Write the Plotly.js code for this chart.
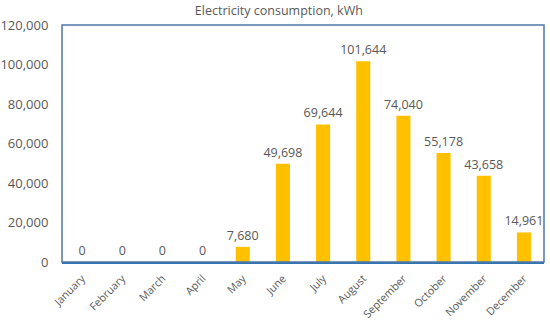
<!DOCTYPE html>
<html><head><meta charset="utf-8">
<script src="https://cdn.plot.ly/plotly-3.0.1.min.js"></script>
<style>html,body{margin:0;padding:0;background:#fff}#chart{width:550px;height:322px}</style>
</head><body><div id="chart"></div>
<script>
var months = ["January","February","March","April","May","June","July","August","September","October","November","December"];
var consumption = [0,0,0,0,7680,49698,69644,101644,74040,55178,43658,14961];
var yTicks = [0,20000,40000,60000,80000,100000,120000];
var yTickText = ["0","20,000","40,000","60,000","80,000","100,000","120,000"];

var trace = {
  type: "bar",
  x: months,
  y: consumption,
  marker: {color: "#FFC000"},
  text: consumption.map(function(v){return v.toLocaleString("en-US");}),
  textposition: "outside",
  constraintext: "none",
  textfont: {family: "Open Sans, sans-serif", size: 12.5, color: "#595959"},
  cliponaxis: false,
  hoverinfo: "none"
};
var layout = {
  width: 550, height: 322,
  margin: {l: 62, r: 6, t: 25, b: 60},
  paper_bgcolor: "#fff", plot_bgcolor: "#fff",
  font: {family: "Open Sans, sans-serif", color: "#595959"},
  bargap: 0.65,
  showlegend: false,
  uniformtext: {mode: false},
  title: {text: "Electricity consumption, kWh", x: 0.507, xanchor: "center", y: 0.98, yanchor: "top",
          font: {family: "Open Sans, sans-serif", size: 12.5, color: "#595959"}},
  xaxis: {
    tickangle: -45, tickfont: {family: "Open Sans, sans-serif", size: 10.8, color: "#595959"},
    showline: true, linecolor: "#2E75B6", linewidth: 2, mirror: false,
    ticks: "outside", ticklen: 4, tickcolor: "rgba(0,0,0,0)", showgrid: false, fixedrange: true,
    automargin: false
  },
  yaxis: {
    range: [0, 120000], tickvals: yTicks, ticktext: yTickText,
    tickfont: {family: "Open Sans, sans-serif", size: 13, color: "#595959"},
    showgrid: false, zeroline: false, ticks: "outside", ticklen: 10, tickcolor: "rgba(0,0,0,0)",
    showline: false, fixedrange: true
  },
  shapes: [{type: "rect", xref: "paper", yref: "paper", x0: 0, x1: 1, y0: 0, y1: 1,
            line: {color: "#4F76A6", width: 1.5}}]
};
Plotly.newPlot("chart", [trace], layout, {displayModeBar: false, staticPlot: true});
</script>
</body></html>
